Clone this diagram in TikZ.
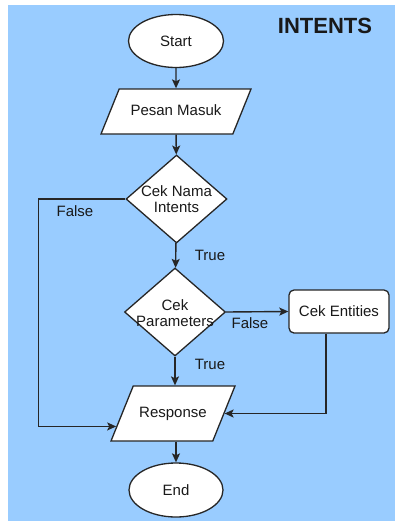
\documentclass[tikz,border=0pt]{standalone}
\usepackage{fontspec}
\setmainfont{Liberation Sans}
\usetikzlibrary{shapes.geometric,arrows.meta,calc}
\definecolor{bgblue}{RGB}{153,204,255}
\begin{document}
\begin{tikzpicture}[x=1pt,y=-1pt,
  every node/.style={font=\fontsize{15}{15.5}\selectfont, text=black!90, inner sep=0pt},
  shapebox/.style={draw=black!85, line width=1.3pt, fill=white},
  terminal/.style={shapebox, ellipse, minimum width=95pt, minimum height=53pt},
  iobox/.style={shapebox, trapezium, trapezium stretches body=true,
    trapezium left angle=68, trapezium right angle=112,
    text height=11pt, text depth=3pt, inner xsep=0pt},
  decision/.style={shapebox, diamond, minimum width=101pt, minimum height=88pt},
  procbox/.style={shapebox, rounded corners=5pt, minimum width=100pt, minimum height=43pt},
  flow/.style={draw=black!85, line width=1.4pt, -{Stealth[length=9pt,width=8pt,inset=2pt]}},
  tag/.style={font=\fontsize{15}{15.5}\selectfont}
]
\useasboundingbox (0,0) rectangle (398,523);
\fill[bgblue] (8,5) rectangle (395,521);

\node[font=\fontsize{22}{24}\bfseries] (title) at (325,26) {INTENTS};

\node[terminal] (start) at (176,41) {Start};
\node[iobox, inner ysep=15.5pt, minimum width=150pt] (pesan) at (176,111.5) {Pesan Masuk};
\node[decision, label={[align=center]center:Cek Nama\\Intents}] (d1) at (176.5,199) {};
\node[decision, label={[align=center, yshift=-1pt]center:Cek\\Parameters}] (d2) at (175,312) {};
\node[procbox] (ent) at (339,311.5) {Cek Entities};
\node[iobox, inner ysep=20.5pt, minimum width=124pt] (resp) at (173,413.5) {Response};
\node[terminal, minimum width=94pt, minimum height=54pt] (fin) at (176,490) {End};

\coordinate (respL) at ($(resp.bottom left corner)!0.27!(resp.top left corner)$);

\draw[flow] (start) -- (pesan);
\draw[flow] (pesan) -- (d1);
\draw[flow] (d1) -- (d2);
\draw[flow] (d2.east) -- (ent.west);
\draw[flow] (d2.south) -- (d2.south |- resp.north);
\draw[flow] (d1.west) -- ++(-87,0) |- (respL);
\draw[flow] ($(ent.south)+(-13,0)$) |- (resp.east);
\draw[flow] (resp.south -| fin.north) -- (fin.north);

\node[tag] (f1) at (75,211) {False};
\node[tag] (t1) at (210,255) {True};
\node[tag] (f2) at (250,323) {False};
\node[tag] (t2) at (210,364) {True};
\end{tikzpicture}
\end{document}
